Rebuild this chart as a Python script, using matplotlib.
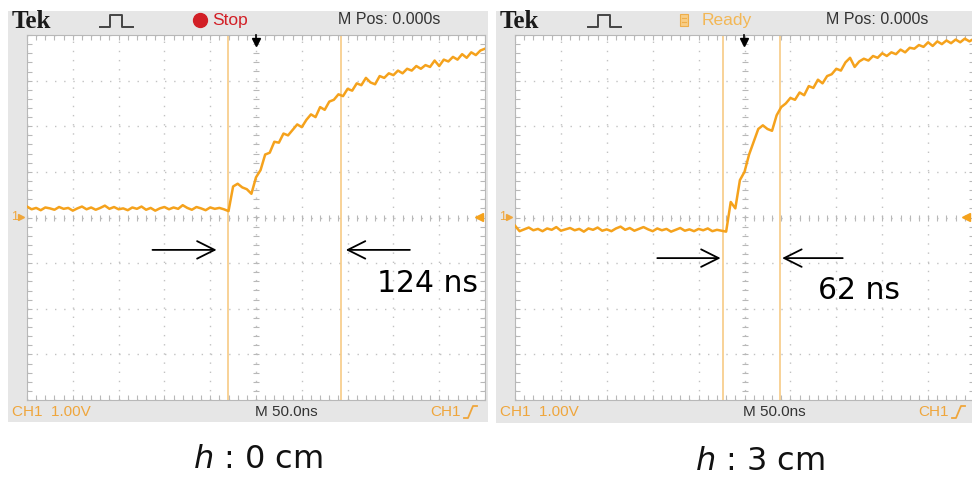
import numpy as np
import matplotlib.pyplot as plt
from matplotlib.patches import Rectangle
from matplotlib.ticker import MultipleLocator

W, H = 972, 482

# time base 50 ns/div over 10 divisions, one sample every 5 ns
t = np.arange(-250, 251, 5)

# CH1 level (V) with the probe at h = 0 cm
ch1_h0 = [
    0.24, 0.18, 0.21, 0.16, 0.22, 0.20, 0.17, 0.23, 0.19, 0.21,
    0.15, 0.20, 0.24, 0.18, 0.22, 0.17, 0.21, 0.26, 0.19, 0.23,
    0.18, 0.20, 0.16, 0.22, 0.19, 0.24, 0.17, 0.21, 0.15, 0.20,
    0.23, 0.18, 0.22, 0.19, 0.27, 0.21, 0.17, 0.23, 0.20, 0.16,
    0.22, 0.19, 0.21, 0.18,
    0.14, 0.68, 0.74, 0.66, 0.62, 0.52,
    0.88, 1.04, 1.38, 1.42, 1.66, 1.64, 1.84, 1.80, 1.92, 2.04,
    1.98, 2.14, 2.26, 2.20, 2.42, 2.36, 2.54, 2.58, 2.70, 2.66,
    2.82, 2.78, 2.94, 2.90, 3.06, 2.96, 2.92, 3.10, 3.06, 3.16,
    3.12, 3.22, 3.16, 3.26, 3.22, 3.32, 3.26, 3.34, 3.30, 3.44,
    3.32, 3.46, 3.42, 3.52, 3.46, 3.58, 3.50, 3.62, 3.56, 3.66,
    3.70,
]

# CH1 level (V) with the probe at h = 3 cm
ch1_h3 = [
    -0.18, -0.30, -0.26, -0.22, -0.28, -0.25, -0.30, -0.24, -0.27, -0.21,
    -0.29, -0.26, -0.23, -0.28, -0.25, -0.31, -0.24, -0.27, -0.22, -0.29,
    -0.26, -0.30, -0.24, -0.20, -0.27, -0.23, -0.29, -0.25, -0.21, -0.26,
    -0.30, -0.24, -0.28, -0.25, -0.31, -0.27, -0.23, -0.29, -0.26, -0.30,
    -0.25, -0.28, -0.24, -0.30, -0.27, -0.29, -0.31,
    0.34, 0.20, 0.82,
    1.00, 1.38, 1.66, 1.94, 2.02, 1.94, 1.90, 2.24, 2.42, 2.50,
    2.62, 2.58, 2.74, 2.68, 2.88, 2.84, 3.02, 2.94, 3.10, 3.14,
    3.26, 3.22, 3.40, 3.50, 3.30, 3.42, 3.48, 3.44, 3.54, 3.50,
    3.60, 3.54, 3.62, 3.58, 3.68, 3.62, 3.72, 3.70, 3.78, 3.74,
    3.84, 3.76, 3.86, 3.80, 3.88, 3.82, 3.90, 3.84, 3.92, 3.86,
    3.92,
]

# cursor positions (ns) and probe heights (cm)
cursors_h0 = [-31, 93]
cursors_h3 = [-23, 39]
heights = [0, 3]

TRACE = '#f5a21c'
CURSOR = '#f7c67a'
SCOPE_ORANGE = '#efa63c'
GRID = '#c2c2c2'
BEZEL = '#e6e6e6'
SCOPE_FONT = ['Liberation Sans Narrow', 'Liberation Sans', 'DejaVu Sans']

panels = [
    dict(bezel=(8, 11, 488, 422), screen=(27, 35, 485, 400), data=ch1_h0,
         cursors=cursors_h0, status='Stop', h=heights[0],
         arrows=[(-113, -43, -0.71), (168, 98, -0.71)], label_at=(132, -1.44),
         caption=(258, 459)),
    dict(bezel=(496, 11, 972, 423), screen=(515, 35, 974, 400), data=ch1_h3,
         cursors=cursors_h3, status='Ready', h=heights[1],
         arrows=[(-95, -26, -0.89), (107, 41, -0.89)], label_at=(80, -1.60),
         caption=(760, 462)),
]


def rect(x0, y0, x1, y1):
    return [x0 / W, 1 - y1 / H, (x1 - x0) / W, (y1 - y0) / H]


fig = plt.figure(figsize=(W / 100, H / 100), dpi=100)

bg = fig.add_axes([0, 0, 1, 1], label='bg', zorder=0)
bg.set_xlim(0, W)
bg.set_ylim(H, 0)
bg.axis('off')

top = fig.add_axes([0, 0, 1, 1], label='top', zorder=3)
top.set_xlim(0, W)
top.set_ylim(H, 0)
top.axis('off')
top.patch.set_alpha(0)

for p in panels:
    bx0, by0, bx1, by1 = p['bezel']
    sx0, sy0, sx1, sy1 = p['screen']
    bg.add_patch(Rectangle((bx0, by0), bx1 - bx0, by1 - by0, color=BEZEL, lw=0))

    # scope screen: 10 x 8 divisions
    ax = fig.add_axes(rect(sx0, sy0, sx1, sy1), zorder=1)
    ax.set_xlim(-250, 250)
    ax.set_ylim(-4, 4)
    ax.xaxis.set_major_locator(MultipleLocator(50))
    ax.yaxis.set_major_locator(MultipleLocator(1))
    ax.xaxis.set_minor_locator(MultipleLocator(10))
    ax.yaxis.set_minor_locator(MultipleLocator(0.2))
    ax.grid(True, which='major', color=GRID, linestyle=(0, (1, 5.6)), lw=1.0)
    ax.tick_params(which='both', direction='in', length=3.5, width=0.8,
                   color='#b8b8b8', top=True, right=True,
                   labelbottom=False, labelleft=False)
    for s in ax.spines.values():
        s.set_color('#b8b8b8')
        s.set_linewidth(0.8)
    minor_x = np.arange(-250, 251, 10)
    minor_y = np.arange(-4, 4.01, 0.2)
    ax.plot(minor_x, np.zeros_like(minor_x), ls='none', marker='|', ms=5,
            mew=0.8, color='#b8b8b8')
    ax.plot(np.zeros_like(minor_y), minor_y, ls='none', marker='_', ms=5,
            mew=0.8, color='#b8b8b8')

    for c in p['cursors']:
        ax.axvline(c, color=CURSOR, lw=1.1, zorder=2)
    ax.plot(t, p['data'], color=TRACE, lw=1.8, zorder=3)

    for tail, tip, yv in p['arrows']:
        ax.annotate('', xy=(tip, yv), xytext=(tail, yv),
                    arrowprops=dict(arrowstyle='->,head_length=0.9,head_width=0.45',
                                    color='black', lw=1.3, mutation_scale=14,
                                    shrinkA=0, shrinkB=0))
    dt = p['cursors'][1] - p['cursors'][0]
    ax.text(p['label_at'][0], p['label_at'][1], f'{dt} ns', fontsize=21.5,
            va='center', ha='left', color='black', family='DejaVu Sans')

    # header bar
    top.text(sx0 - 15, 22, 'Tek', fontsize=18, fontweight='bold',
             family=['Liberation Serif', 'DejaVu Serif'], va='center', color='#1a1a1a')
    px = sx0 + 73
    top.plot([px, px + 10, px + 10, px + 22, px + 22, px + 33],
             [27, 27, 15, 15, 27, 27], color='#444444', lw=1.4)
    if p['status'] == 'Stop':
        top.plot([sx0 + 173], [20], marker='o', ms=10, color='#d21f26')
        top.text(sx0 + 185, 20, 'Stop', fontsize=12.5, color='#d21f26',
                 va='center', family=SCOPE_FONT)
    else:
        top.add_patch(Rectangle((sx0 + 165, 14), 8, 12, facecolor='#f8cd86',
                                edgecolor='#eeae4a', lw=0.8))
        top.plot([sx0 + 167, sx0 + 171], [18, 18], color='#eeae4a', lw=0.8)
        top.plot([sx0 + 167, sx0 + 171], [22, 22], color='#eeae4a', lw=0.8)
        top.text(sx0 + 187, 20, 'Ready', fontsize=12.5, color='#f3b755',
                 va='center', family=SCOPE_FONT)
    top.text(sx0 + 311, 20, 'M Pos: 0.000s', fontsize=11.5, color='#333333',
             va='center', family=SCOPE_FONT)

    # trigger position and level markers
    tx = sx0 + 229
    top.plot([tx, tx], [35, 40], color='black', lw=1.2)
    top.plot([tx], [42], marker='v', ms=6, color='black')
    top.text(sx0 - 16, 217, '1', fontsize=9, color=SCOPE_ORANGE, va='center',
             family=SCOPE_FONT)
    top.plot([sx0 - 6], [217], marker='>', ms=4, color=SCOPE_ORANGE)
    top.plot([min(sx1, W) - 6], [217], marker='<', ms=6, color=TRACE)

    # footer bar
    top.text(sx0 - 15, 412, 'CH1  1.00V', fontsize=11, color=SCOPE_ORANGE,
             va='center', family=SCOPE_FONT)
    top.text(sx0 + 228, 412, 'M 50.0ns', fontsize=11, color='#333333',
             va='center', family=SCOPE_FONT)
    top.text(sx0 + 403, 412, 'CH1', fontsize=11, color=SCOPE_ORANGE,
             va='center', family=SCOPE_FONT)
    ex = sx0 + 437
    top.plot([ex, ex + 4, ex + 9, ex + 13], [418, 418, 406, 406],
             color=SCOPE_ORANGE, lw=1.3)

    # caption under each screen
    bg.text(p['caption'][0], p['caption'][1], f'$h$ : {p["h"]} cm', fontsize=23,
            ha='center', va='center', color='#111111', family='DejaVu Sans')

fig.savefig('out.png', dpi=100)
